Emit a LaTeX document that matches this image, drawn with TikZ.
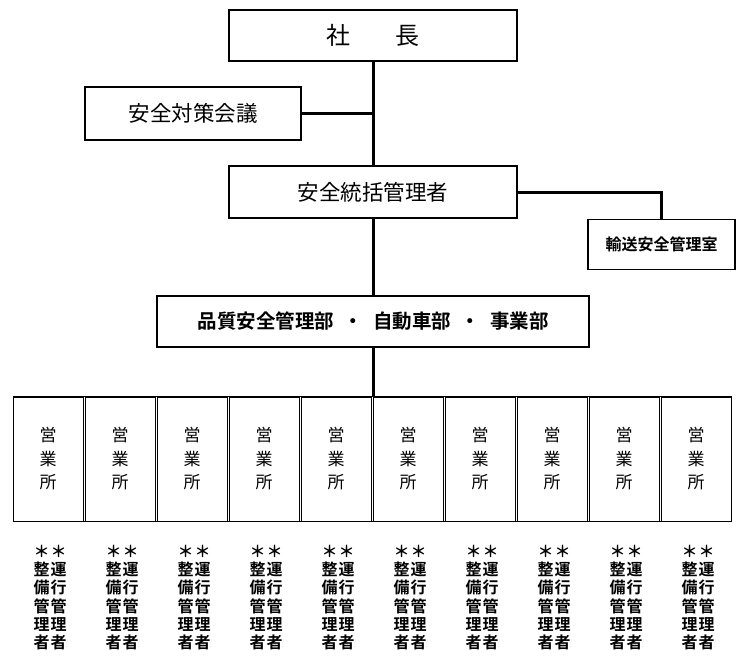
\documentclass[tikz,border=0pt]{standalone}
\usepackage{fontspec}
\usepackage{tikz}
\usetikzlibrary{positioning, calc}
\newfontfamily\jp{Noto Sans CJK JP}[BoldFont={Noto Sans CJK JP Bold}]

\begin{document}
\begin{tikzpicture}[x=1pt, y=-1pt,
    font=\jp,
    box/.style={draw, line width=1.6pt, inner sep=0pt, align=center},
    unitbox/.style={box, line width=1pt, minimum width=70pt, minimum height=124pt},
    conn/.style={line width=3pt, draw=black},
    staff/.style={font=\jp\bfseries\fontsize{16}{18.2}\selectfont,
                  align=center, inner sep=0pt}]
\useasboundingbox (0,0) rectangle (747,672);

% TOP
\node[box, minimum width=288pt, minimum height=51pt,
      font=\jp\fontsize{24}{28}\selectfont] (pres) at (373,35.5)
   {社\hspace{1.9em}長};
\node[box, minimum width=216pt, minimum height=53pt,
      font=\jp\fontsize{21.5}{25}\selectfont] (council) at (193,113.5)
   {安全対策会議};
\node[box, minimum width=288pt, minimum height=52pt,
      font=\jp\fontsize{21.5}{25}\selectfont] (sgm) at (373,192)
   {安全統括管理者};
\node[box, minimum width=147pt, minimum height=50pt,
      font=\jp\bfseries\fontsize{16}{20}\selectfont] (office) at (661.5,244.5)
   {輸送安全管理室};

% DEPARTMENTS
\node[box, minimum width=432pt, minimum height=51pt,
      font=\jp\bfseries\fontsize{19.5}{23}\selectfont] (dept) at (373,321.5)
   {品質安全管理部\hspace{0.5em}・\hspace{0.5em}自動車部\hspace{0.5em}・\hspace{0.5em}事業部};

% BRANCH OFFICES
\foreach \i in {1,...,10} {
  \node[unitbox, font=\jp\fontsize{17}{23.5}\selectfont] (u\i) at (48+72*\i-72,459)
     {営\\業\\所};
  \node[staff] (m\i) at (41.5+72*\i-72,597.5) {＊\\整\\備\\管\\理\\者};
  \node[staff] (d\i) at (58.5+72*\i-72,597.5) {＊\\運\\行\\管\\理\\者};
}
\draw[line width=1.6pt] (u1.north west) -- (u10.north east);
\draw[line width=1.6pt] (u1.south west) -- (u10.south east);

% Connectors
\draw[conn] (pres.south) -- (sgm.north);
\draw[conn] (council.east) -- (council.east -| pres.south);
\draw[conn] (sgm.east) -| (office.north);
\draw[conn] (sgm.south) -- (dept.north);
\coordinate (hub) at (dept.south |- u6.north);
\draw[conn] (dept.south) -- (hub);

\end{tikzpicture}
\end{document}
